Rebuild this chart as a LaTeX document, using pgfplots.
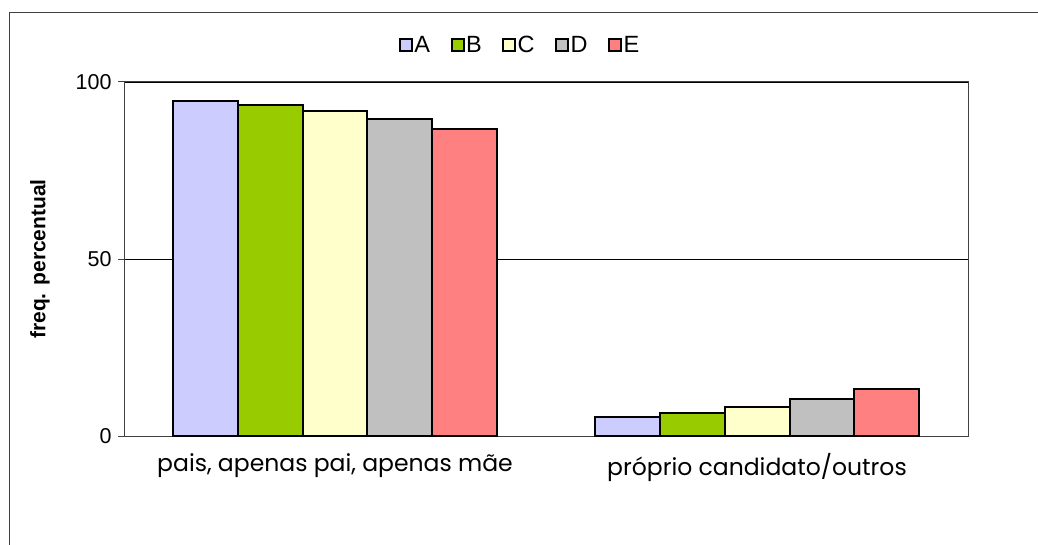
\documentclass[border=0pt]{standalone}
\usepackage{pgfplots}
\pgfplotsset{compat=1.18}
\usepackage{fontspec}
\setmainfont{Liberation Sans}
\newfontfamily\gothic{Poppins}
\definecolor{cA}{HTML}{CCCCFF}
\definecolor{cB}{HTML}{99CC00}
\definecolor{cC}{HTML}{FFFFCC}
\definecolor{cD}{HTML}{C0C0C0}
\definecolor{cE}{HTML}{FF8080}
\pgfplotsset{sqleg/.style={legend image code/.code={\draw[##1,draw=black,line width=2pt] (0pt,-6pt) rectangle (12pt,6pt);}}}
\begin{document}
\begin{tikzpicture}[x=1pt,y=1pt]
\begin{axis}[
  at={(124pt,-436pt)}, anchor=south west,
  scale only axis, width=844pt, height=354pt,
  xmin=-0.5, xmax=1.5, ymin=0, ymax=100,
  ybar, bar width=0.154,
  axis line style={draw=black!75, line width=1pt},
  ytick={0,50,100},
  ymajorgrids, major grid style={black, line width=0.8pt},
  ytick pos=left, xtick pos=bottom,
  tick align=outside, major tick length=6pt,
  tick style={black!75, line width=1pt},
  /pgf/number format/assume math mode=true,
  yticklabel style={font=\fontsize{21.5}{24}\selectfont, xshift=-3pt},
  xtick={0,1},
  xticklabels={{pais, apenas pai, apenas mãe},{próprio candidato/outros}},
  x tick style={draw=none},
  xticklabel style={font=\gothic\fontsize{23.5}{26}\selectfont, yshift=-8pt},
  extra x ticks={-0.5,0.5,1.5},
  extra x tick labels={},
  extra x tick style={tick style={draw=black!75, line width=1pt}, major tick length=8pt},
  ylabel={freq. percentual},
  every axis y label/.style={at={(axis description cs:-0.0995,0.5)}, rotate=90, anchor=center, font=\bfseries\fontsize{21}{23}\selectfont},
  legend style={at={(axis description cs:0.469,1.1045)}, anchor=center, draw=none, font=\fontsize{23.5}{25}\selectfont, legend columns=5, /tikz/every even column/.append style={column sep=19pt}, /tikz/every odd column/.append style={column sep=0pt}, nodes={inner sep=1.5pt}},
  legend cell align=left,
]
\addplot[sqleg, fill=cA, draw=black, line width=2pt, bar shift=-0.308] coordinates {(0,94.5) (1,5.5)};
\addplot[sqleg, fill=cB, draw=black, line width=2pt, bar shift=-0.154] coordinates {(0,93.6) (1,6.4)};
\addplot[sqleg, fill=cC, draw=black, line width=2pt, bar shift=0] coordinates {(0,91.7) (1,8.3)};
\addplot[sqleg, fill=cD, draw=black, line width=2pt, bar shift=0.154] coordinates {(0,89.5) (1,10.5)};
\addplot[sqleg, fill=cE, draw=black, line width=2pt, bar shift=0.308] coordinates {(0,86.6) (1,13.4)};
\legend{A,B,C,D,E}
\end{axis}
\draw[black!75, line width=1pt] (9.5pt,-545pt) -- (9.5pt,-12.5pt) -- (1038pt,-12.5pt);
\pgfresetboundingbox
\useasboundingbox (0pt,0pt) rectangle (1038pt,-545pt);
\end{tikzpicture}
\end{document}
